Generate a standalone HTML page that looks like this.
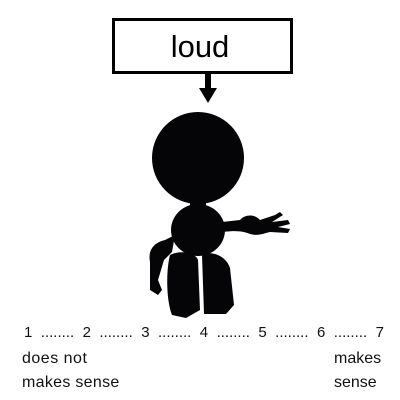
<!DOCTYPE html>
<html><head><style>
body{margin:0;background:#fff;width:400px;height:400px;overflow:hidden;position:relative;font-family:"Liberation Sans",sans-serif}
.t{position:absolute;font-size:16px;color:#111;white-space:nowrap}
.r{position:absolute;left:24px;top:324px;width:360px;display:flex;justify-content:space-between;font-size:15px;color:#111}
</style></head><body>
<svg width="400" height="400" style="position:absolute;left:0;top:0">
<rect x="113.5" y="19.5" width="178" height="53" fill="#fff" stroke="#000" stroke-width="3"/>
<text x="200" y="57" font-size="31" text-anchor="middle" font-family="Liberation Sans,sans-serif" fill="#000">loud</text>
<rect x="205" y="73" width="6" height="16" fill="#000"/>
<polygon points="199,88 217,88 208,103" fill="#000"/>
<g fill="#050508">
<circle cx="198" cy="158" r="46"/>
<ellipse cx="198" cy="230" rx="27" ry="26"/>
<rect x="190" y="198" width="16" height="12"/>
<path d="M222,222 L240,220 C245,214 255,214 260,220 L275,215 L280,212 L283,215 L272,222 L288,220 L290,224 L278,227 L290,229 L288,233 L270,232 C262,234 258,236 250,234 C244,232 240,230 222,232 Z"/>
<path d="M175,235 L165,240 C152,243 148,252 150,262 L150,290 L158,295 L162,290 L158,280 L164,260 L172,252 Z"/>
<path d="M170,255 C180,250 195,252 198,260 L200,310 L186,318 L172,315 C166,300 166,270 170,255 Z"/>
<path d="M202,255 C212,250 226,256 230,268 L234,305 L226,314 L204,314 Z"/>
</g>
</svg>
<div class="r"><span>1</span><span>........</span><span>2</span><span>........</span><span>3</span><span>........</span><span>4</span><span>........</span><span>5</span><span>........</span><span>6</span><span>........</span><span>7</span></div>
<div class="t" style="left:22px;top:350px;letter-spacing:0.5px">does not</div>
<div class="t" style="left:22px;top:374px;letter-spacing:0.3px">makes sense</div>
<div class="t" style="left:334px;top:350px">makes</div>
<div class="t" style="left:334px;top:374px">sense</div>
</body></html>
